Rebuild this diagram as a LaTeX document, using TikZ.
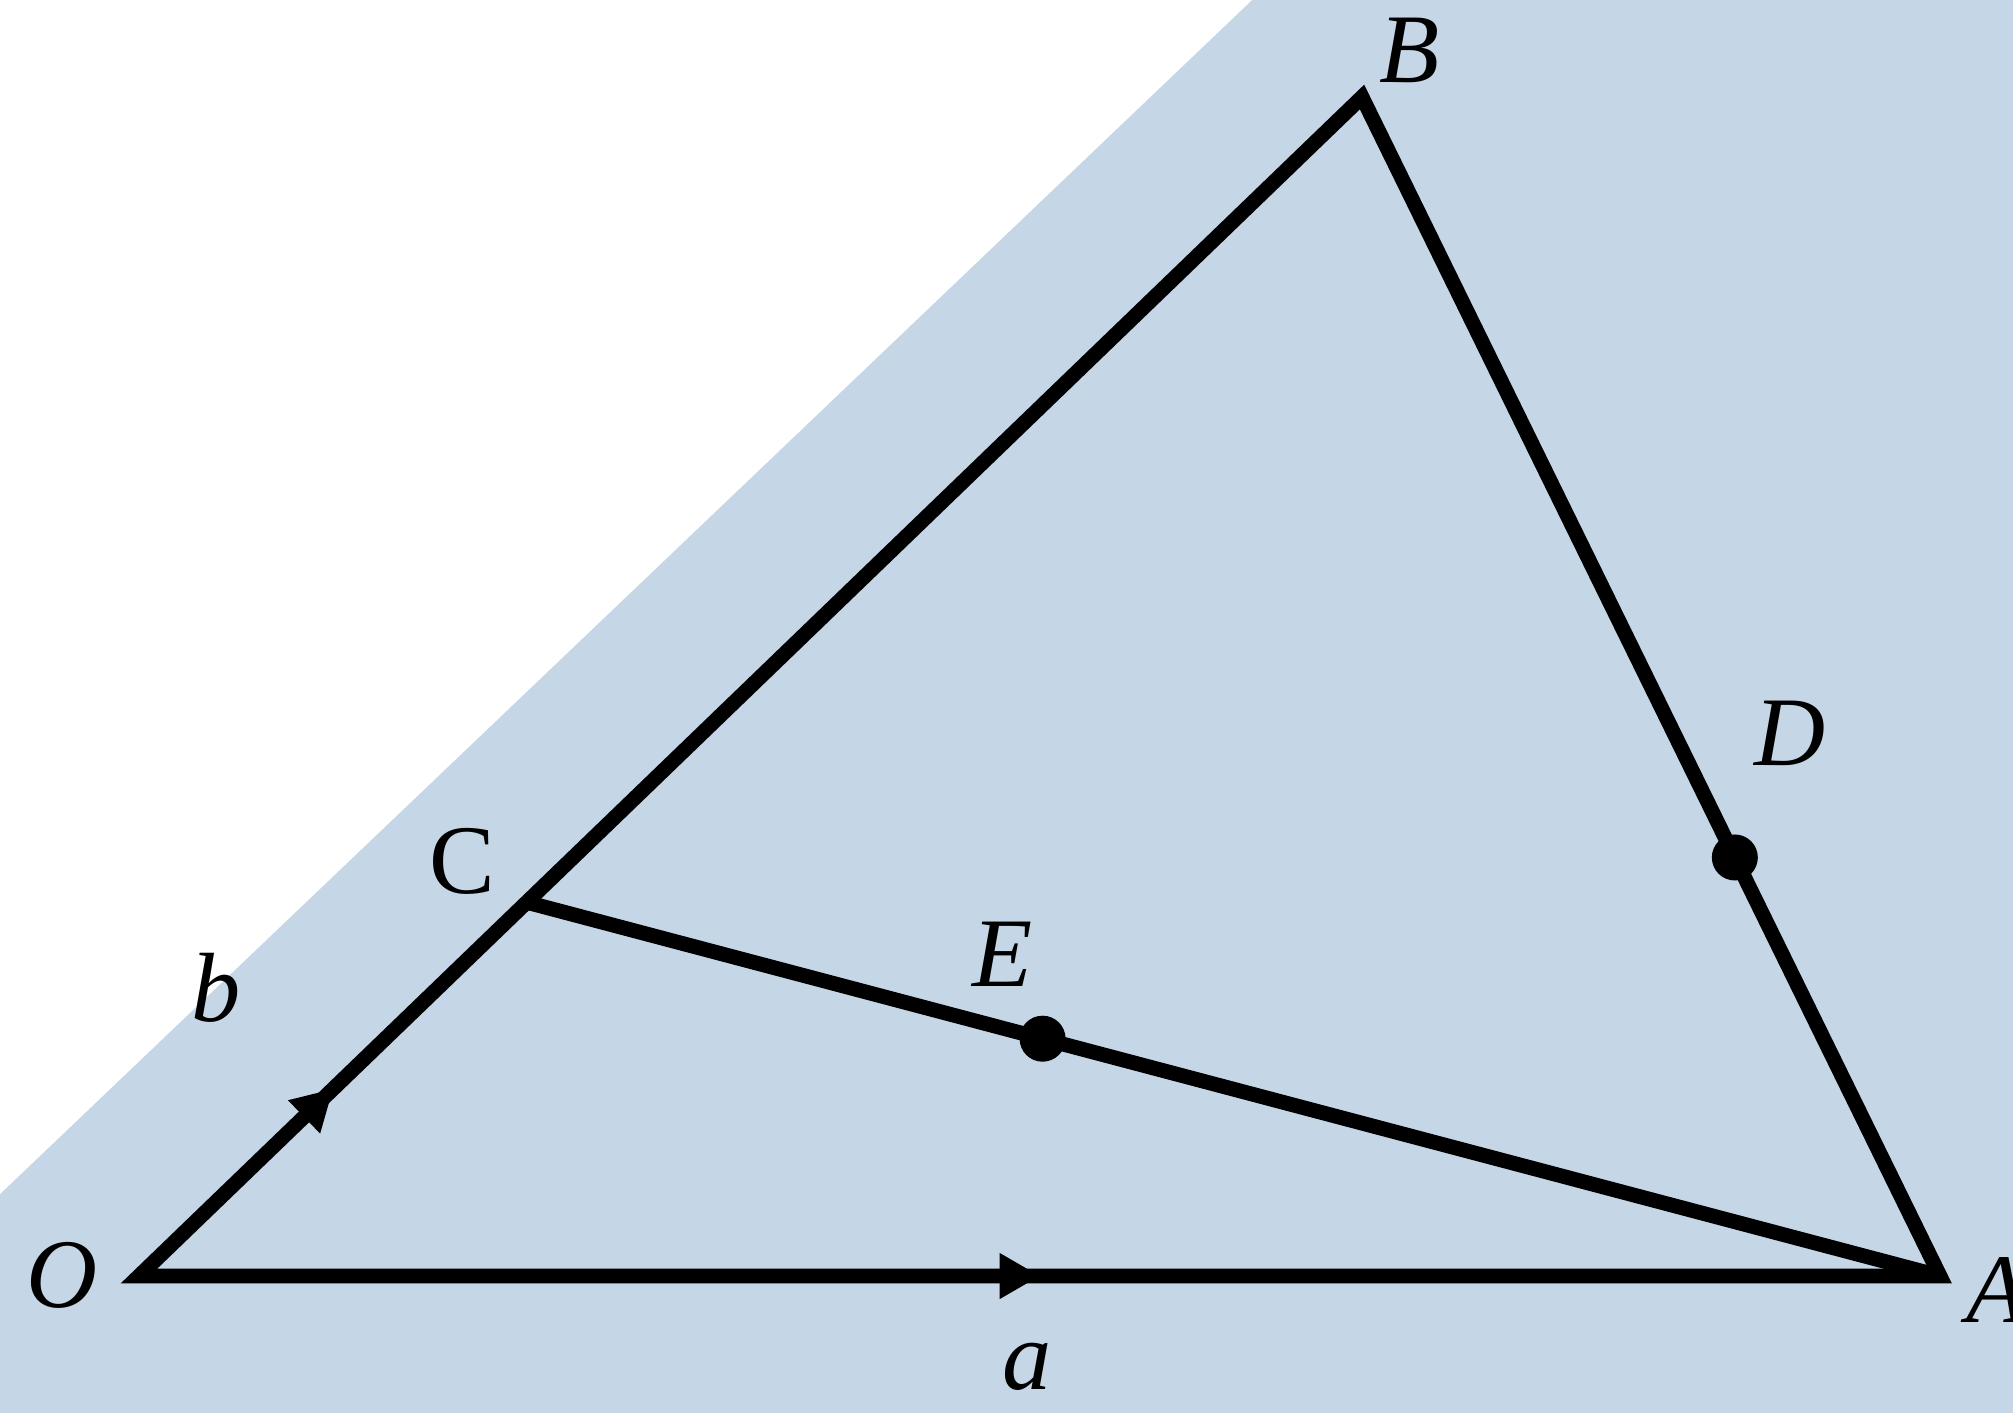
\documentclass[tikz,border=0pt]{standalone}
\usepackage{fontspec}
\setmainfont{Liberation Serif}
\usepackage{tikz}
\usetikzlibrary{arrows.meta,positioning,calc,decorations.markings}
\definecolor{bgblue}{RGB}{197,214,230}
\tikzset{%
  % points and labels
  dot/.style={circle, fill=black, inner sep=0pt, minimum size=4.6mm},
  lbl/.style={font=\fontsize{28}{32}\selectfont\itshape, inner sep=0pt},
  lblup/.style={lbl, font=\fontsize{28}{32}\selectfont\upshape},
  % edge styles
  side/.style={line width=4.2pt, line join=miter},
  midarrow/.style={postaction={decorate}, decoration={markings,
      mark=at position 0.5 with {\arrow{Triangle[length=4mm, width=4.6mm]}}}},
}

\begin{document}
\begin{tikzpicture}
  % background
  \useasboundingbox (0,0) rectangle (20.13,14.13);
  \fill[bgblue] (0,0) rectangle (20.13,14.13);
  \fill[white] (0,14.13) -- (12.52,14.13) -- (0,2.19) -- cycle;

  % vertices
  \coordinate (O) at (1.39,1.37);
  \coordinate (A) at (19.40,1.37);
  \coordinate (B) at (13.62,13.16);
  \coordinate (C) at ($(O)!0.317!(B)$);
  \coordinate (D) at ($(B)!0.645!(A)$);
  \coordinate (E) at ($(C)!0.365!(A)$);

  % sides
  \draw[side] (B) -- (O) -- (A) -- cycle;
  \draw[side] (C) -- (A);
  \path[midarrow] (O) -- (C);
  \path[midarrow] (O) -- (A);

  % marked points
  \node[dot] (dD) at (D) {};
  \node[dot] (dE) at (E) {};

  % labels
  \node[lbl] (lO) at ($(O)+(-0.77,0.01)$) {O};
  \node[lbl, anchor=west] (lA) at ($(A)+(0.26,-0.14)$) {A};
  \node[lbl] (lB) at ($(B)+(0.48,0.47)$) {B};
  \node[lblup] (lC) at ($(C)+(-0.64,0.41)$) {C};
  \node[lbl] (lD) at ($(D)+(0.55,1.24)$) {D};
  \node[lbl] (lE) at ($(E)+(-0.40,0.84)$) {E};
  \node[lbl] (lb) at (2.16,4.25) {b};
  \node[lbl] (la) at (10.27,0.46) {a};
\end{tikzpicture}
\end{document}
